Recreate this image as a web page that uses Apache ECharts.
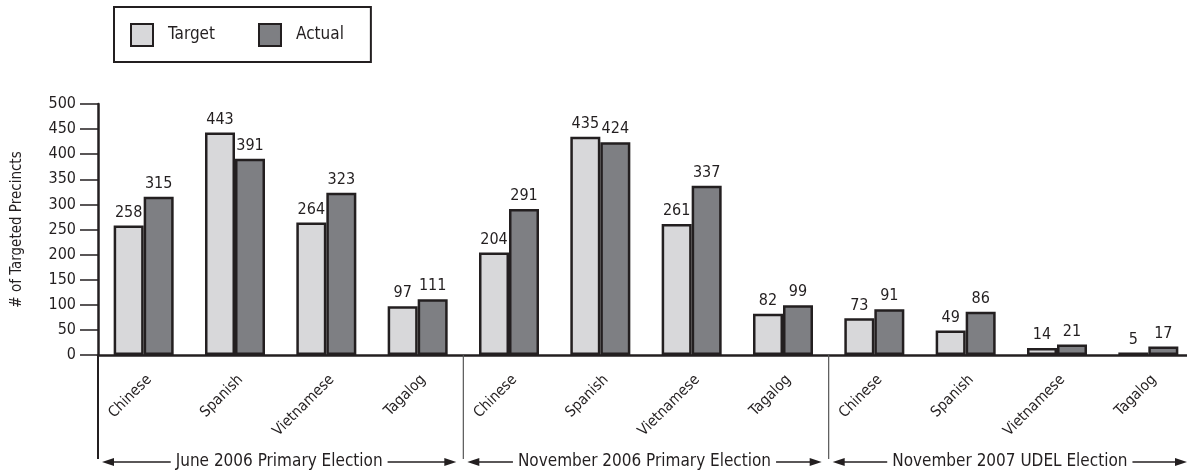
<!DOCTYPE html>
<html>
<head>
<meta charset="utf-8">
<script src="https://cdn.jsdelivr.net/npm/echarts@6/dist/echarts.min.js"></script>
<style>
  html, body { margin: 0; padding: 0; background: #fff; }
  #chart { width: 1187px; height: 472px; }
</style>
</head>
<body>
<div id="chart"></div>
<script>
// Languages per election (four per group)
const languages = ['Chinese', 'Spanish', 'Vietnamese', 'Tagalog',
                   'Chinese', 'Spanish', 'Vietnamese', 'Tagalog',
                   'Chinese', 'Spanish', 'Vietnamese', 'Tagalog'];
const elections = ['June 2006 Primary Election', 'November 2006 Primary Election', 'November 2007 UDEL Election'];
const targetValues = [258, 443, 264, 97, 204, 435, 261, 82, 73, 49, 14, 5];
const actualValues = [315, 391, 323, 111, 291, 424, 337, 99, 91, 86, 21, 17];
const yTicks = { min: 0, max: 500, interval: 50 };

const FONT = "'DejaVu Sans Condensed', 'Liberation Sans Narrow', 'Liberation Sans', sans-serif";
const INK = '#231f20';

const chart = echarts.init(document.getElementById('chart'));

const barLabel = {
  show: true, position: 'top', distance: 5,
  fontFamily: FONT, fontSize: 16, color: INK
};

chart.setOption({
  animation: false,
  textStyle: { fontFamily: FONT },
  legend: {
    left: 114, top: 7,
    padding: [16, 27, 15, 16],
    borderColor: INK, borderWidth: 2,
    itemWidth: 22, itemHeight: 22, itemGap: 43,
    icon: 'rect',
    textStyle: { fontFamily: FONT, fontSize: 17, color: INK, padding: [0, 0, 0, 10] },
    data: ['Target', 'Actual']
  },
  grid: { left: 98, right: -7, top: 104, bottom: 117, containLabel: false, outerBoundsMode: 'none' },
  xAxis: {
    type: 'category', data: languages, position: 'bottom',
    axisLine: { lineStyle: { color: INK, width: 2.5 } },
    axisTick: { length: 16, interval: 0, lineStyle: { color: INK, width: 1.5 } },
    axisLabel: {
      interval: 0, rotate: 45, margin: 28, padding: [0, -8, 0, 0],
      fontFamily: FONT, fontSize: 15, color: INK
    }
  },
  yAxis: {
    type: 'value', min: yTicks.min, max: yTicks.max, interval: yTicks.interval,
    name: '# of Targeted Precincts', nameLocation: 'middle', nameGap: 73,
    nameTextStyle: { fontFamily: FONT, fontSize: 15, color: INK },
    axisLine: { show: true, lineStyle: { color: INK, width: 2.5 } },
    axisTick: { show: true, length: 18, lineStyle: { color: INK, width: 1.5 } },
    axisLabel: { margin: 22, fontFamily: FONT, fontSize: 16, color: INK },
    splitLine: { show: false }
  },
  series: [
    {
      name: 'Target', type: 'bar', data: targetValues,
      barWidth: 30, barGap: '0%',
      itemStyle: { color: '#d8d8da', borderColor: INK, borderWidth: 2.5 },
      label: barLabel
    },
    {
      name: 'Actual', type: 'bar', data: actualValues,
      barWidth: 30, barGap: '0%',
      itemStyle: { color: '#7e7f83', borderColor: INK, borderWidth: 2.5 },
      label: barLabel
    }
  ]
});

// Election spans: separators between groups and double-headed arrows under each
const px = i => chart.convertToPixel({ xAxisIndex: 0 }, i);
const catW = px(1) - px(0);
const axisY = chart.convertToPixel({ yAxisIndex: 0 }, 0);
const arrowY = 462;
const graphics = [];
elections.forEach((name, g) => {
  const bLeft = px(g * 4) - catW / 2;
  const bRight = px(g * 4 + 3) + catW / 2;
  graphics.push({
    type: 'line', z: 10,
    shape: { x1: bLeft, y1: axisY, x2: bLeft, y2: 459 },
    style: { stroke: g === 0 ? INK : '#555', lineWidth: g === 0 ? 2 : 1.2 }
  });
  const left = bLeft + 4;
  const right = bRight - 7;
  graphics.push({
    type: 'line', z: 10,
    shape: { x1: left + 8, y1: arrowY, x2: right - 8, y2: arrowY },
    style: { stroke: INK, lineWidth: 1.5 }
  });
  graphics.push({
    type: 'polygon', z: 10,
    shape: { points: [[left, arrowY], [left + 12, arrowY - 4], [left + 12, arrowY + 4]] },
    style: { fill: INK }
  });
  graphics.push({
    type: 'polygon', z: 10,
    shape: { points: [[right, arrowY], [right - 12, arrowY - 4], [right - 12, arrowY + 4]] },
    style: { fill: INK }
  });
  graphics.push({
    type: 'text', z: 11,
    x: (left + right) / 2, y: arrowY,
    style: {
      text: name, fontFamily: FONT, fontSize: 17, fill: INK,
      align: 'center', verticalAlign: 'middle',
      backgroundColor: '#fff', padding: [0, 5]
    }
  });
});
chart.setOption({ graphic: graphics });
</script>
</body>
</html>
